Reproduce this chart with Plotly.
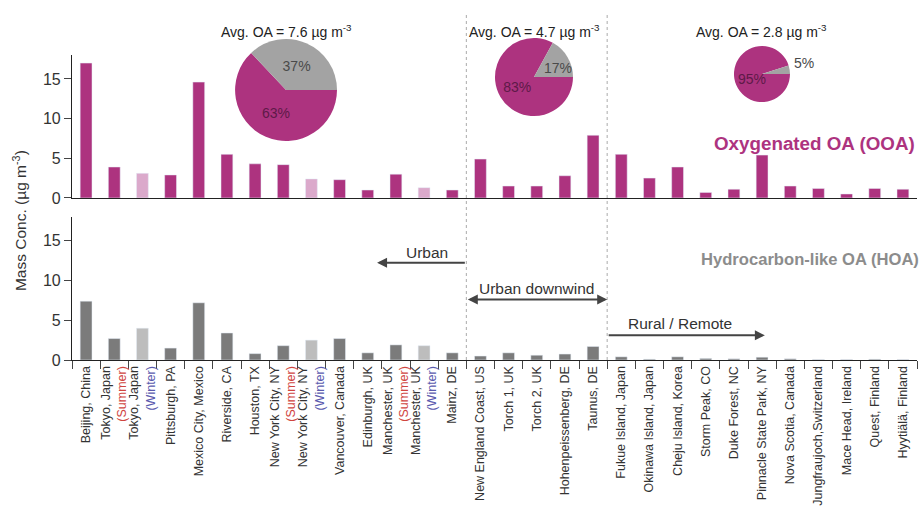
import plotly.graph_objects as go

# sites, left to right
sites = [
    "Beijing, China", "Tokyo, Japan S", "Tokyo, Japan W", "Pittsburgh, PA",
    "Mexico City, Mexico", "Riverside, CA", "Houston, TX", "New York City, NY S",
    "New York City, NY W", "Vancouver, Canada", "Edinburgh, UK", "Manchester, UK S",
    "Manchester, UK W", "Mainz, DE", "New England Coast, US", "Torch 1, UK",
    "Torch 2, UK", "Hohenpeissenberg, DE", "Taunus, DE", "Fukue Island, Japan",
    "Okinawa Island, Japan", "Cheju Island, Korea", "Storm Peak, CO", "Duke Forest, NC",
    "Pinnacle State Park, NY", "Nova Scotia, Canada", "Jungfraujoch,Switzerland",
    "Mace Head, Ireland", "Quest, Finland", "Hyytiälä, Finland",
]
season = ["", "Summer", "Winter", "", "", "", "", "Summer", "Winter", "", "", "Summer",
          "Winter", "", "", "", "", "", "", "", "", "", "", "", "", "", "", "", "", ""]

ooa = [17.0, 3.9, 3.1, 2.9, 14.6, 5.5, 4.3, 4.2, 2.4, 2.3, 1.0, 3.0, 1.3, 1.0, 4.9,
       1.5, 1.5, 2.8, 7.9, 5.5, 2.5, 3.9, 0.7, 1.1, 5.4, 1.5, 1.2, 0.5, 1.2, 1.1]
hoa = [7.4, 2.7, 4.0, 1.5, 7.2, 3.4, 0.8, 1.8, 2.5, 2.7, 0.9, 1.9, 1.8, 0.9, 0.5,
       0.9, 0.6, 0.75, 1.7, 0.4, 0.1, 0.4, 0.2, 0.15, 0.35, 0.15, 0.05, 0.05, 0.1, 0.05]

# pie summaries: urban / urban downwind / rural-remote
avg_oa = [7.6, 4.7, 2.8]
ooa_share = [63, 83, 95]
hoa_share = [37, 17, 5]

MAG = "#ad337f"
MAG_LT = "#dba9cb"
GRY = "#7b7b7b"
GRY_LT = "#bdbdbd"
PIE_GRY = "#a3a3a3"
FONT = "Liberation Sans, Arial, sans-serif"

season_col = {"Summer": "#d0453f", "Winter": "#5a5aae"}
ticktext = []
for s, ss in zip(sites, season):
    if ss:
        name = s[:-2]
        ticktext.append(f"{name}<br><span style='color:{season_col[ss]}'>({ss})</span>")
    else:
        ticktext.append(s)

ooa_cols = [MAG_LT if ss == "Winter" else MAG for ss in season]
hoa_cols = [GRY_LT if ss == "Winter" else GRY for ss in season]

fig = go.Figure()
fig.add_trace(go.Bar(x=sites, y=ooa, marker_color=ooa_cols, xaxis="x", yaxis="y",
                     showlegend=False))
fig.add_trace(go.Bar(x=sites, y=hoa, marker_color=hoa_cols, xaxis="x2", yaxis="y2",
                     showlegend=False))

# pies (paper domains)
pie_dom = [
    dict(x=[0.193, 0.3136], y=[0.6257, 0.917]),
    dict(x=[0.5006, 0.5929], y=[0.697, 0.92]),
    dict(x=[0.7834, 0.8497], y=[0.737, 0.897]),
]
pie_textpos = [["inside", "inside"], ["inside", "none"], ["none", "none"]]
for i in range(3):
    fig.add_trace(go.Pie(
        values=[ooa_share[i], hoa_share[i]], labels=["OOA", "HOA"],
        marker=dict(colors=[MAG, PIE_GRY]), sort=False, direction="clockwise",
        rotation=90, domain=pie_dom[i], textinfo="percent",
        textposition=pie_textpos[i],
        insidetextorientation="horizontal",
        textfont=dict(family=FONT, size=14, color=["#5e1a48", "#4a4a4a"]),
        showlegend=False, hoverinfo="label+percent",
    ))
    cx = (pie_dom[i]["x"][0] + pie_dom[i]["x"][1]) / 2
    fig.add_annotation(x=cx, y=0.94, xref="paper", yref="paper", showarrow=False,
                       xanchor="center", yanchor="middle",
                       text=f"Avg. OA = {avg_oa[i]} µg m<sup>-3</sup>",
                       font=dict(family=FONT, size=14, color="#222"))

# pie labels that plotly would shrink or misplace
pl = dict(xref="paper", yref="paper", showarrow=False, xanchor="center", yanchor="middle")
fig.add_annotation(x=0.575, y=0.834, text=f"{hoa_share[1]}%",
                   font=dict(family=FONT, size=14, color="#4a4a4a"), **pl)
fig.add_annotation(x=0.805, y=0.803, text=f"{ooa_share[2]}%",
                   font=dict(family=FONT, size=14, color="#5e1a48"), **pl)
fig.add_annotation(x=0.866, y=0.849, text=f"{hoa_share[2]}%",
                   font=dict(family=FONT, size=14, color="#4a4a4a"), **pl)

# region separators
for xb in [13.5, 18.5]:
    fig.add_shape(type="line", xref="x", yref="paper", x0=xb, x1=xb, y0=0, y1=0.994,
                  line=dict(color="#aaaaaa", width=1, dash="dot"))

arrow = dict(showarrow=True, arrowcolor="#444", arrowwidth=2, arrowhead=2,
             arrowsize=1, xref="x2", yref="y2", axref="x2", ayref="y2", text="")
fig.add_annotation(x=10.33, y=12.25, ax=13.5, ay=12.25, **arrow)
fig.add_annotation(x=18.5, y=7.6, ax=13.5, ay=7.6, arrowside="end+start", startarrowhead=2,
                   **arrow)
fig.add_annotation(x=24.1, y=3.1, ax=18.5, ay=3.1, **arrow)

lab = dict(showarrow=False, xref="x2", yref="y2", xanchor="center", yanchor="middle",
           font=dict(family=FONT, size=15.5, color="#333"))
fig.add_annotation(x=12.1, y=13.5, text="Urban", **lab)
fig.add_annotation(x=16.0, y=9.0, text="Urban downwind", **lab)
fig.add_annotation(x=21.1, y=4.6, text="Rural / Remote", **lab)

fig.add_annotation(x=1.0, y=0.62, xref="paper", yref="paper", xanchor="right",
                   yanchor="middle", showarrow=False,
                   text="<b>Oxygenated OA (OOA)</b>", font=dict(family=FONT, size=18.8, color=MAG))
fig.add_annotation(x=1.005, y=0.286, xref="paper", yref="paper", xanchor="right",
                   yanchor="middle", showarrow=False,
                   text="<b>Hydrocarbon-like OA (HOA)</b>",
                   font=dict(family=FONT, size=16.6, color="#8c8c8c"))
fig.add_annotation(x=-0.0615, y=0.397, xref="paper", yref="paper", showarrow=False,
                   xanchor="center", yanchor="middle", textangle=-90,
                   text="Mass Conc. (µg m<sup>-3</sup>)",
                   font=dict(family=FONT, size=15.5, color="#333"))

yax = dict(range=[0, 18], tickvals=[0, 5, 10, 15], ticks="outside", ticklen=7,
           showline=True, linecolor="#222", linewidth=1.2, showgrid=False, zeroline=False,
           tickfont=dict(family=FONT, size=16, color="#333"))
fig.update_layout(
    width=922, height=527,
    margin=dict(l=72, r=5, t=10, b=167),
    paper_bgcolor="white", plot_bgcolor="white",
    bargap=0.58,
    font=dict(family=FONT, color="#333"),
    xaxis=dict(domain=[0, 1], anchor="y", type="category", range=[-0.5, 29.5],
               showticklabels=False, ticks="", showline=True, linecolor="#222",
               linewidth=1.2, showgrid=False),
    yaxis=dict(domain=[0.463, 0.871], anchor="x", **yax),
    xaxis2=dict(domain=[0, 1], anchor="y2", type="category", range=[-0.5, 29.5],
                tickvals=sites, ticktext=ticktext, tickangle=-90, ticks="outside",
                tickson="boundaries", ticklen=8, showline=True, linecolor="#222",
                linewidth=1.2, showgrid=False,
                tickfont=dict(family=FONT, size=12.5, color="#333")),
    yaxis2=dict(domain=[0, 0.4086], anchor="x2", **yax),
)

# drop the browser's default 8px body margin so the figure fills the window
fig.write_html("out.html", config={"displayModeBar": False},
               post_script="document.body.style.margin='0px';")
